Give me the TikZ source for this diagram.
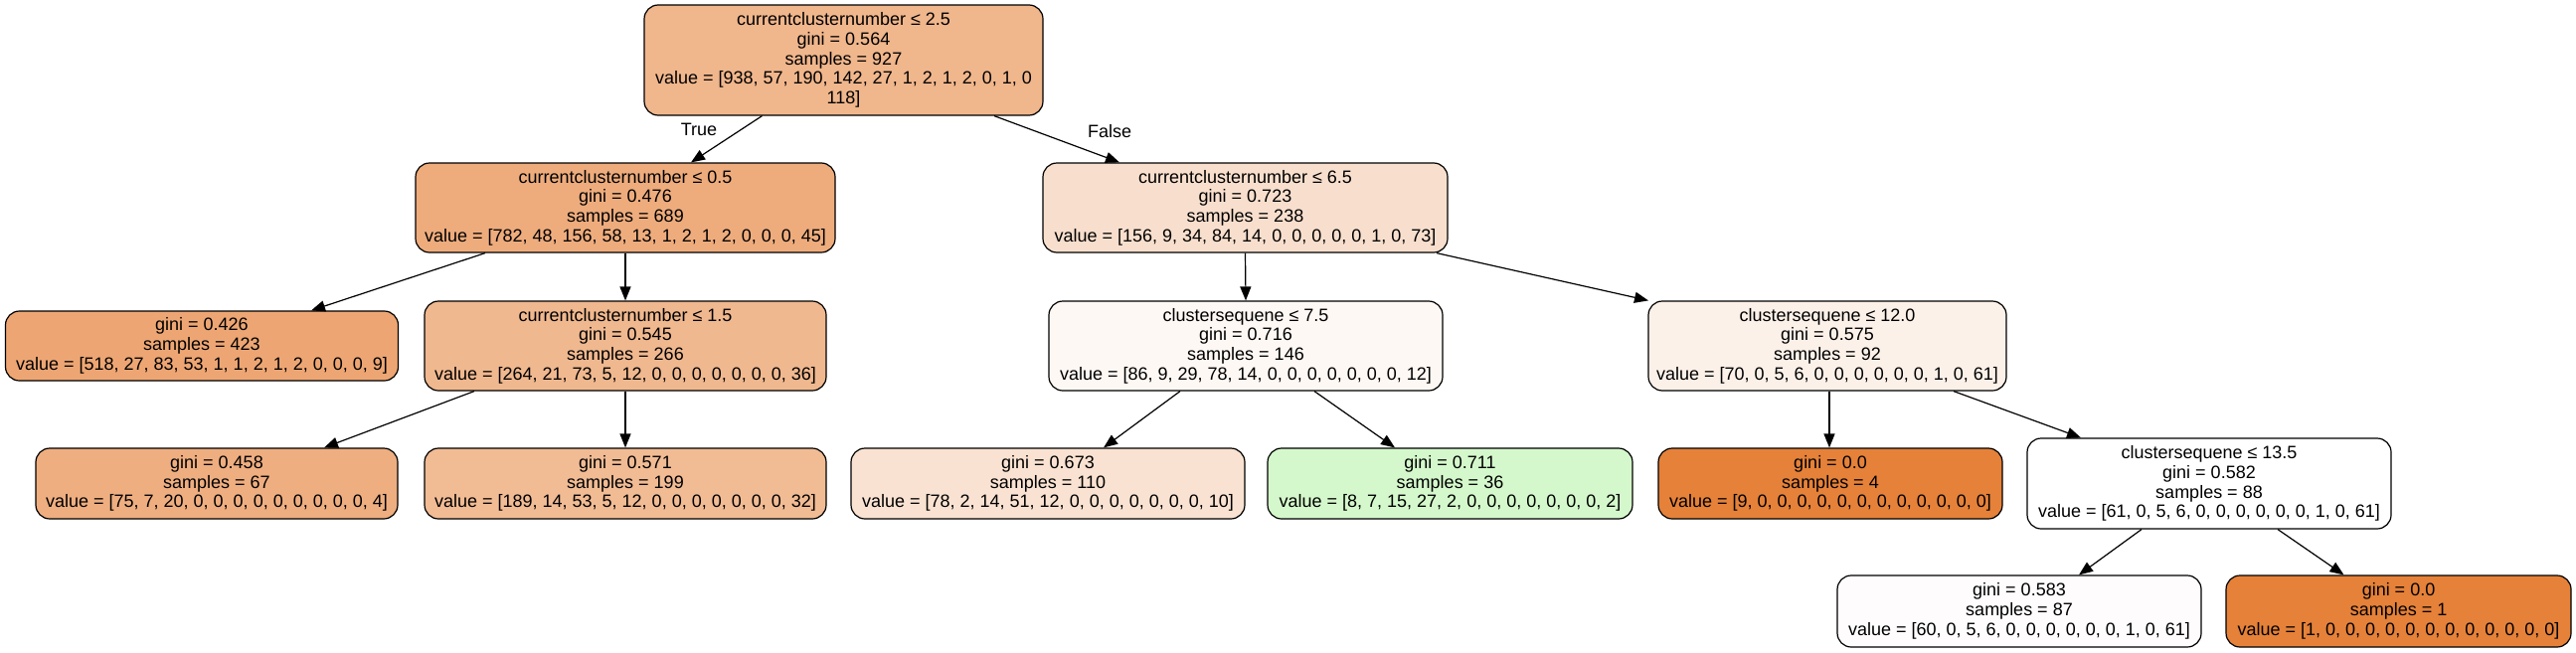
\documentclass[tikz,border=0pt]{standalone}
\usepackage{fontspec}
\setmainfont{Liberation Sans}
\usetikzlibrary{arrows.meta}
\definecolor{cRoot}{HTML}{F0B68C}
\definecolor{cA}{HTML}{EEAC7D}
\definecolor{cLa}{HTML}{EDA673}
\definecolor{cB}{HTML}{F0B88F}
\definecolor{cLb}{HTML}{EEAE80}
\definecolor{cLc}{HTML}{F1BB94}
\definecolor{cC}{HTML}{F8DFCD}
\definecolor{cD}{HTML}{FEF8F4}
\definecolor{cE}{HTML}{FCF1E9}
\definecolor{cLd}{HTML}{F9E2D1}
\definecolor{cLe}{HTML}{D4F8CB}
\definecolor{cFull}{HTML}{E58139}
\definecolor{cF}{HTML}{FFFFFF}
\definecolor{cLg}{HTML}{FEFCFC}
\begin{document}
\begin{tikzpicture}[x=1pt,y=-1pt,
  tnode/.style={draw=black, line width=1.2pt, rounded corners=14pt, align=center,
    inner sep=0pt, font=\fontsize{18}{19.7}\selectfont},
  edge/.style={draw=black, line width=1.2pt, -{Triangle[length=14pt,width=11pt]}},
  lbl/.style={font=\fontsize{18}{20}\selectfont, inner sep=0pt}]
\useasboundingbox (0,0) rectangle (2591,656);

\node[tnode, fill=cRoot, minimum width=401pt, minimum height=111pt] (root) at (848.5,60.5)
  {currentclusternumber ≤ 2.5\\gini = 0.564\\samples = 927\\value = [938, 57, 190, 142, 27, 1, 2, 1, 2, 0, 1, 0\\118]};

\node[tnode, fill=cA, minimum width=422pt, minimum height=90pt] (A) at (629,209)
  {currentclusternumber ≤ 0.5\\gini = 0.476\\samples = 689\\value = [782, 48, 156, 58, 13, 1, 2, 1, 2, 0, 0, 0, 45]};

\node[tnode, fill=cLa, minimum width=395pt, minimum height=70pt] (La) at (203,348)
  {gini = 0.426\\samples = 423\\value = [518, 27, 83, 53, 1, 1, 2, 1, 2, 0, 0, 0, 9]};

\node[tnode, fill=cB, minimum width=404pt, minimum height=90pt] (B) at (629,348)
  {currentclusternumber ≤ 1.5\\gini = 0.545\\samples = 266\\value = [264, 21, 73, 5, 12, 0, 0, 0, 0, 0, 0, 0, 36]};

\node[tnode, fill=cLb, minimum width=364pt, minimum height=71pt] (Lb) at (218,486.5)
  {gini = 0.458\\samples = 67\\value = [75, 7, 20, 0, 0, 0, 0, 0, 0, 0, 0, 0, 4]};

\node[tnode, fill=cLc, minimum width=404pt, minimum height=71pt] (Lc) at (629,486.5)
  {gini = 0.571\\samples = 199\\value = [189, 14, 53, 5, 12, 0, 0, 0, 0, 0, 0, 0, 32]};

\node[tnode, fill=cC, minimum width=407pt, minimum height=90pt] (C) at (1252.5,209)
  {currentclusternumber ≤ 6.5\\gini = 0.723\\samples = 238\\value = [156, 9, 34, 84, 14, 0, 0, 0, 0, 0, 1, 0, 73]};

\node[tnode, fill=cD, minimum width=396pt, minimum height=90pt] (D) at (1253,348)
  {clustersequene ≤ 7.5\\gini = 0.716\\samples = 146\\value = [86, 9, 29, 78, 14, 0, 0, 0, 0, 0, 0, 0, 12]};

\node[tnode, fill=cE, minimum width=360pt, minimum height=90pt] (E) at (1838,348)
  {clustersequene ≤ 12.0\\gini = 0.575\\samples = 92\\value = [70, 0, 5, 6, 0, 0, 0, 0, 0, 0, 1, 0, 61]};

\node[tnode, fill=cLd, minimum width=396pt, minimum height=71pt] (Ld) at (1054,486.5)
  {gini = 0.673\\samples = 110\\value = [78, 2, 14, 51, 12, 0, 0, 0, 0, 0, 0, 0, 10]};

\node[tnode, fill=cLe, minimum width=367pt, minimum height=71pt] (Le) at (1458.5,486.5)
  {gini = 0.711\\samples = 36\\value = [8, 7, 15, 27, 2, 0, 0, 0, 0, 0, 0, 0, 2]};

\node[tnode, fill=cFull, minimum width=346pt, minimum height=71pt] (Lf) at (1841,486.5)
  {gini = 0.0\\samples = 4\\value = [9, 0, 0, 0, 0, 0, 0, 0, 0, 0, 0, 0, 0]};

\node[tnode, fill=cF, minimum width=366pt, minimum height=91pt] (F) at (2222,486.5)
  {clustersequene ≤ 13.5\\gini = 0.582\\samples = 88\\value = [61, 0, 5, 6, 0, 0, 0, 0, 0, 0, 1, 0, 61]};

\node[tnode, fill=cLg, minimum width=366pt, minimum height=72pt] (Lg) at (2031,615)
  {gini = 0.583\\samples = 87\\value = [60, 0, 5, 6, 0, 0, 0, 0, 0, 0, 1, 0, 61]};

\node[tnode, fill=cFull, minimum width=347pt, minimum height=72pt] (Lh) at (2412.5,615)
  {gini = 0.0\\samples = 1\\value = [1, 0, 0, 0, 0, 0, 0, 0, 0, 0, 0, 0, 0]};

\node[lbl] (tTrue) at (703,130) {True};
\node[lbl] (tFalse) at (1116,132) {False};

\draw[edge] ([xshift=-82pt]root.south) -- ([xshift=66pt]A.north);
\draw[edge] ([xshift=151.5pt]root.south) -- ([xshift=-126.5pt]C.north);
\draw[edge] ([xshift=-141pt]A.south) -- ([xshift=110pt]La.north);
\draw[edge] (A.south) -- (B.north);
\draw[edge] ([xshift=-152pt]B.south) -- ([xshift=108pt]Lb.north);
\draw[edge] (B.south) -- (Lc.north);
\draw[edge] (C.south) -- (D.north);
\draw[edge] ([xshift=192.5pt]C.south) -- ([xshift=-180pt]E.north);
\draw[edge] ([xshift=-66pt]D.south) -- ([xshift=56pt]Ld.north);
\draw[edge] ([xshift=69pt]D.south) -- ([xshift=-55.5pt]Le.north);
\draw[edge] ([xshift=2pt]E.south) -- ([xshift=-1pt]Lf.north);
\draw[edge] ([xshift=127pt]E.south) -- ([xshift=-129pt]F.north);
\draw[edge] ([xshift=-68pt]F.south) -- ([xshift=60pt]Lg.north);
\draw[edge] ([xshift=69pt]F.south) -- ([xshift=-55pt]Lh.north);
\end{tikzpicture}
\end{document}
